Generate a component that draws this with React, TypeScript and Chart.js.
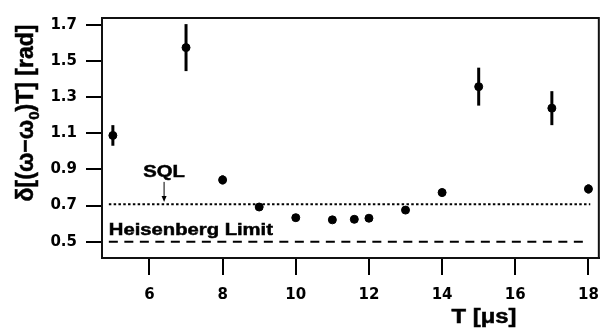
import React, { useEffect, useRef } from "react";
import { Chart, registerables } from "chart.js";

Chart.register(...registerables);

// ---- data ----
const times = [5, 7, 8, 9, 10, 11, 11.6, 12, 13, 14, 15, 17, 18];
const deltas = [1.088, 1.574, 0.842, 0.692, 0.633, 0.621, 0.624, 0.63, 0.675, 0.772, 1.358, 1.239, 0.792];
const errors = [0.057, 0.13, 0.025, 0.012, 0, 0, 0, 0, 0.012, 0.022, 0.105, 0.094, 0.025];
const sqlValue = 0.707;
const heisenbergValue = 0.5;
const limitSpan = [4.89, 18.05];
const heisenbergSpan = [4.89, 17.95];
const xTicks = [6, 8, 10, 12, 14, 16, 18];
const yTicks = [0.5, 0.7, 0.9, 1.1, 1.3, 1.5, 1.7];
const yTickLabels = ["0.5", "0.7", "0.9", "1.1", "1.3", "1.5", "1.7"];

const FONT = "'Liberation Sans', Arial, sans-serif";
const TICK_FONT = "'DejaVu Sans', sans-serif";
const STRETCH = 1.19;

function heavyText(ctx: any, text: string, x: number, y: number) {
  ctx.fillText(text, x, y);
  ctx.strokeText(text, x, y);
}

function stretchedText(ctx: any, text: string, x: number, y: number, align: "left" | "center") {
  ctx.save();
  ctx.translate(x, y);
  ctx.scale(STRETCH, 1);
  ctx.textAlign = align;
  ctx.lineWidth = 0.5;
  heavyText(ctx, text, 0, 0);
  ctx.restore();
}

const decorPlugin = {
  id: "decor",
  beforeDatasetsDraw(chart: any) {
    const { ctx } = chart;
    const xs = chart.scales.x;
    const ys = chart.scales.y;
    ctx.save();
    ctx.strokeStyle = "#000";
    ctx.lineWidth = 3;
    times.forEach((t, i) => {
      const e = errors[i];
      if (!e) return;
      const px = xs.getPixelForValue(t);
      ctx.beginPath();
      ctx.moveTo(px, ys.getPixelForValue(deltas[i] + e));
      ctx.lineTo(px, ys.getPixelForValue(deltas[i] - e));
      ctx.stroke();
    });
    ctx.restore();
  },
  afterDraw(chart: any) {
    const { ctx, chartArea } = chart;
    const xs = chart.scales.x;
    const ys = chart.scales.y;
    ctx.save();
    // frame
    ctx.strokeStyle = "#111";
    ctx.lineWidth = 2;
    ctx.strokeRect(chartArea.left, chartArea.top, chartArea.right - chartArea.left, chartArea.bottom - chartArea.top);

    // SQL label + arrow
    ctx.fillStyle = "#000";
    ctx.strokeStyle = "#000";
    ctx.font = `bold 17px ${FONT}`;
    ctx.textBaseline = "alphabetic";
    const ax = xs.getPixelForValue(6.4);
    stretchedText(ctx, "SQL", ax, ys.getPixelForValue(0.858), "center");
    ctx.lineWidth = 1;
    ctx.beginPath();
    const a1 = ys.getPixelForValue(0.831);
    const a2 = ys.getPixelForValue(0.72);
    ctx.moveTo(ax, a1);
    ctx.lineTo(ax, a2 - 4);
    ctx.stroke();
    ctx.beginPath();
    ctx.moveTo(ax - 2.5, a2 - 6);
    ctx.lineTo(ax + 2.5, a2 - 6);
    ctx.lineTo(ax, a2);
    ctx.closePath();
    ctx.fill();

    // Heisenberg label
    stretchedText(ctx, "Heisenberg Limit", xs.getPixelForValue(4.89), ys.getPixelForValue(0.536), "left");

    // x title
    ctx.font = `bold 20px ${FONT}`;
    stretchedText(ctx, "T [\u03bcs]", 484, 323, "center");

    // y title (rotated, with subscript)
    ctx.translate(33, 113);
    ctx.rotate(-Math.PI / 2);
    ctx.lineWidth = 0.5;
    const big = `bold 23px ${FONT}`;
    const small = `bold 15px ${FONT}`;
    const p1 = "\u03b4[(\u03c9\u2212\u03c9";
    const p2 = "0";
    const p3 = ")T] [rad]";
    ctx.font = big;
    const w1 = ctx.measureText(p1).width;
    const w3 = ctx.measureText(p3).width;
    ctx.font = small;
    const w2 = ctx.measureText(p2).width;
    let cx = -(w1 + w2 + w3) / 2;
    ctx.textAlign = "left";
    ctx.textBaseline = "alphabetic";
    ctx.font = big;
    heavyText(ctx, p1, cx, 0);
    cx += w1;
    ctx.font = small;
    heavyText(ctx, p2, cx, 6);
    cx += w2;
    ctx.font = big;
    heavyText(ctx, p3, cx, 0);
    ctx.restore();
  },
};

export default function App() {
  const ref = useRef<HTMLCanvasElement | null>(null);
  useEffect(() => {
    if (!ref.current) return;
    const chart = new Chart(ref.current, {
      type: "scatter",
      data: {
        datasets: [
          {
            label: "data",
            data: times.map((t, i) => ({ x: t, y: deltas[i] })),
            backgroundColor: "#000",
            borderColor: "#000",
            pointRadius: 4,
            pointHoverRadius: 4,
            showLine: false,
          },
          {
            label: "SQL",
            type: "line",
            data: limitSpan.map((x) => ({ x, y: sqlValue })),
            borderColor: "#000",
            borderWidth: 2,
            borderDash: [2.5, 2.3],
            pointRadius: 0,
          } as any,
          {
            label: "Heisenberg Limit",
            type: "line",
            data: heisenbergSpan.map((x) => ({ x, y: heisenbergValue })),
            borderColor: "#000",
            borderWidth: 2,
            borderDash: [9, 6.5],
            pointRadius: 0,
          } as any,
        ],
      },
      options: {
        animation: false,
        responsive: false,
        devicePixelRatio: 1,
        layout: { padding: { top: 12, right: 6, left: 0, bottom: 0 } },
        plugins: { legend: { display: false }, tooltip: { enabled: false } },
        scales: {
          x: {
            type: "linear",
            min: 4.703,
            max: 18.284,
            afterFit: (s: any) => {
              s.height = 72;
            },
            afterBuildTicks: (s: any) => {
              s.ticks = xTicks.map((v) => ({ value: v }));
            },
            ticks: {
              color: "#000",
              font: { family: TICK_FONT, size: 15, weight: "bold" },
              padding: 11,
              maxRotation: 0,
              callback: (v: any) => String(v),
            },
            grid: { drawOnChartArea: false, drawTicks: true, tickLength: 17, color: "#000", lineWidth: 2 },
            border: { display: true, color: "#111", width: 2 },
          },
          y: {
            type: "linear",
            min: 0.4099,
            max: 1.7378,
            afterFit: (s: any) => {
              s.width = 102;
            },
            afterBuildTicks: (s: any) => {
              s.ticks = yTicks.map((v) => ({ value: v }));
            },
            ticks: {
              color: "#000",
              font: { family: TICK_FONT, size: 15, weight: "bold" },
              padding: 9,
              callback: (v: any) => {
                const i = yTicks.indexOf(Number(v));
                return i >= 0 ? yTickLabels[i] : "";
              },
            },
            grid: { drawOnChartArea: false, drawTicks: true, tickLength: 16, color: "#000", lineWidth: 2 },
            border: { display: true, color: "#111", width: 2 },
          },
        },
      },
      plugins: [decorPlugin],
    });
    return () => chart.destroy();
  }, []);
  return (
    <div style={{ position: "absolute", left: 0, top: 0, width: 610, height: 330, background: "#fff" }}>
      <canvas ref={ref} width={610} height={330} />
    </div>
  );
}
